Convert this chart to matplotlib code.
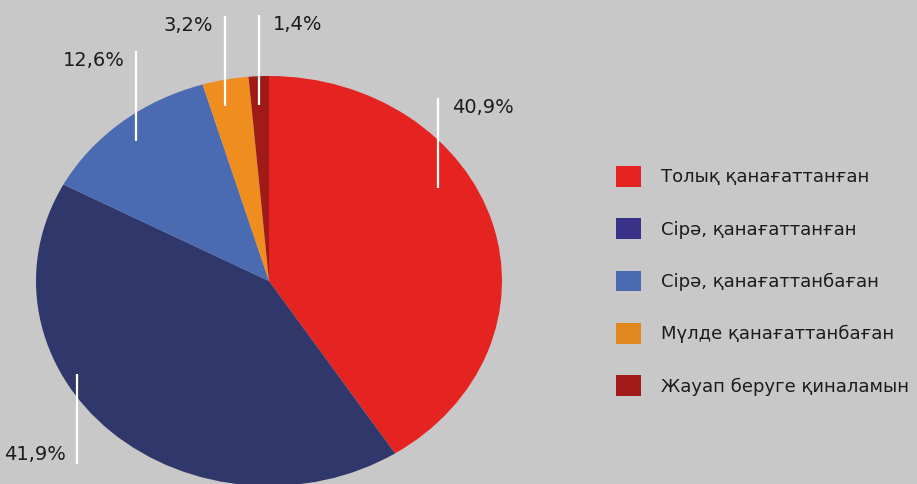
import numpy as np
import matplotlib.pyplot as plt
from matplotlib.patches import Patch

# -----------------------------------------------------------------------------
# Data
# -----------------------------------------------------------------------------

CATEGORIES = [
    "Толық қанағаттанған",
    "Сірә, қанағаттанған",
    "Сірә, қанағаттанбаған",
    "Мүлде қанағаттанбаған",
    "Жауап беруге қиналамын",
]
SHARES = [40.9, 41.9, 12.6, 3.2, 1.4]
VALUE_LABELS = ["40,9%", "41,9%", "12,6%", "3,2%", "1,4%"]

# -----------------------------------------------------------------------------
# Style
# -----------------------------------------------------------------------------

BG = "#c8c8c8"
TEXT_COLOR = "#1c1c1c"
FONT_SIZE = 14
LEGEND_FONT_SIZE = 13

PIE_COLORS = ["#e52421", "#30386b", "#4a6bb1", "#ef8d1f", "#a01a17"]
LEGEND_COLORS = ["#e52421", "#3a3289", "#4a6bb1", "#e0871e", "#a01a17"]

# leader lines: angle shift from wedge middle (deg), radius, direction, text side
LEADERS = [
    (15.7, 0.855, 1, "right"),
    (-18.4, 0.94, -1, "left"),
    (0.6, 0.89, 1, "left"),
    (1.6, 0.874, 1, "left"),
    (0.4, 0.86, 1, "right"),
]
LINE_PX = 90

plt.rcParams["font.family"] = ["DejaVu Sans"]

W, H = 917, 484
fig = plt.figure(figsize=(W / 100, H / 100), dpi=100, facecolor=BG)

# pie is slightly wider than tall in the reference -> axes box sets the ellipse
cx, cy, rx, ry = 269, 281, 233, 205
ax = fig.add_axes([(cx - rx) / W, (H - cy - ry) / H, 2 * rx / W, 2 * ry / H])
ax.set_facecolor(BG)

wedges, _ = ax.pie(
    SHARES,
    colors=PIE_COLORS,
    startangle=90,
    counterclock=False,
    radius=1,
    wedgeprops=dict(linewidth=0),
)
ax.set_aspect("auto")
ax.set_xlim(-1, 1)
ax.set_ylim(-1, 1)
ax.axis("off")

line_len = LINE_PX / ry  # data units (1 unit = ry px vertically)

for wedge, label, (dtheta, r, direction, side) in zip(wedges, VALUE_LABELS, LEADERS):
    mid = 0.5 * (wedge.theta1 + wedge.theta2) + dtheta
    x0 = r * np.cos(np.radians(mid))
    y0 = r * np.sin(np.radians(mid))
    y1 = y0 + direction * line_len
    ax.plot([x0, x0], [y0, y1], color="white", linewidth=1.6,
            solid_capstyle="butt", clip_on=False)
    dx = 10 if side == "right" else -8.5
    dy = -7 if direction > 0 else 7
    ax.annotate(
        label,
        (x0, y1),
        textcoords="offset points",
        xytext=(dx, dy),
        ha="left" if side == "right" else "right",
        va="center",
        fontsize=FONT_SIZE,
        color=TEXT_COLOR,
        annotation_clip=False,
    )

handles = [Patch(facecolor=c, edgecolor="none") for c in LEGEND_COLORS]
fig.legend(
    handles,
    CATEGORIES,
    loc="center left",
    bbox_to_anchor=(616 / W, 1 - 281 / H),
    frameon=False,
    fontsize=LEGEND_FONT_SIZE,
    labelcolor=TEXT_COLOR,
    handlelength=1.385,
    handleheight=1.385,
    handletextpad=1.1,
    labelspacing=1.75,
    borderpad=0,
    borderaxespad=0,
)

fig.savefig("out.png", dpi=100, facecolor=BG)
